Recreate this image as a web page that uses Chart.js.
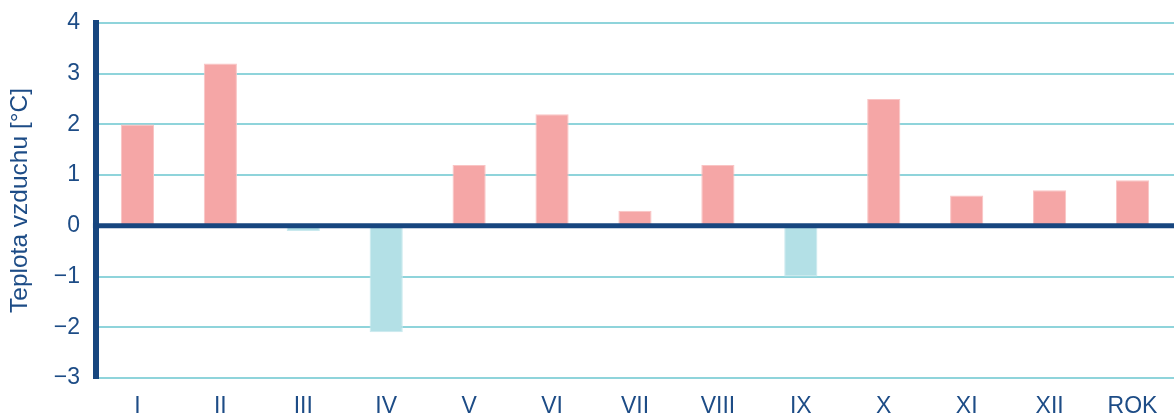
<!DOCTYPE html>
<html>
<head>
<meta charset="utf-8">
<script src="https://cdn.jsdelivr.net/npm/chart.js@4/dist/chart.umd.min.js"></script>
<style>
  html, body { margin: 0; padding: 0; background: #fff; }
  #wrap { width: 1174px; height: 415px; position: relative; }
</style>
</head>
<body>
<div id="wrap"><canvas id="chart"></canvas></div>
<script>
// data
const categories = ['I','II','III','IV','V','VI','VII','VIII','IX','X','XI','XII','ROK'];
const deviations = [2.0, 3.2, -0.1, -2.1, 1.2, 2.2, 0.3, 1.2, -1.0, 2.5, 0.6, 0.7, 0.9];
const yTicks = [-3, -2, -1, 0, 1, 2, 3, 4];

const COLOR_AXIS = '#17467f';
const COLOR_TEXT = '#1d4c86';
const COLOR_GRID = '#8fd4db';
const COLOR_POS = '#f5a6a6';
const COLOR_NEG = '#b3e0e6';

// zero line drawn above the bars
const zeroLine = {
  id: 'zeroLine',
  afterDatasetsDraw(chart) {
    const y = chart.scales.y.getPixelForValue(0);
    const area = chart.chartArea;
    const ctx = chart.ctx;
    ctx.save();
    ctx.strokeStyle = COLOR_AXIS;
    ctx.lineWidth = 5;
    ctx.beginPath();
    ctx.moveTo(area.left - 3, y);
    ctx.lineTo(area.right, y);
    ctx.stroke();
    ctx.restore();
  }
};

new Chart(document.getElementById('chart'), {
  type: 'bar',
  data: {
    labels: categories,
    datasets: [{
      data: deviations,
      backgroundColor: deviations.map(v => v >= 0 ? COLOR_POS : COLOR_NEG),
      borderColor: deviations.map(v => v >= 0 ? '#f9c4c4' : '#c9e9ee'),
      borderWidth: 1,
      categoryPercentage: 1,
      barPercentage: 0.4
    }]
  },
  options: {
    responsive: true,
    maintainAspectRatio: false,
    animation: false,
    layout: { padding: { top: 23, right: 0, bottom: 0, left: 0 } },
    plugins: { legend: { display: false }, tooltip: { enabled: false } },
    scales: {
      x: {
        grid: { display: false, drawTicks: false },
        border: { display: false },
        ticks: { color: COLOR_TEXT, font: { family: 'Liberation Sans', size: 23, lineHeight: 1 }, padding: 17, maxRotation: 0 },
        afterFit: s => { s.height = 37; s.paddingLeft = 0; s.paddingRight = 0; }
      },
      y: {
        min: -3,
        max: 4,
        afterBuildTicks: axis => { axis.ticks = yTicks.map(v => ({ value: v })); },
        afterFit: s => { s.paddingTop = 0; s.paddingBottom = 0; },
        grid: {
          color: ctx => ctx.tick && ctx.tick.value === 0 ? 'rgba(0,0,0,0)' : COLOR_GRID,
          lineWidth: 2,
          drawTicks: false
        },
        border: { display: true, color: COLOR_AXIS, width: 6 },
        ticks: {
          color: COLOR_TEXT,
          font: { family: 'Liberation Sans', size: 23 },
          padding: 16,
          callback: v => v < 0 ? '\u2212' + Math.abs(v) : String(v)
        },
        title: {
          display: true,
          text: 'Teplota vzduchu [°C]',
          color: COLOR_TEXT,
          font: { family: 'Liberation Sans', size: 24.5, lineHeight: 1.05 },
          padding: { top: 7, bottom: 5 }
        }
      }
    }
  },
  plugins: [zeroLine]
});
</script>
</body>
</html>
